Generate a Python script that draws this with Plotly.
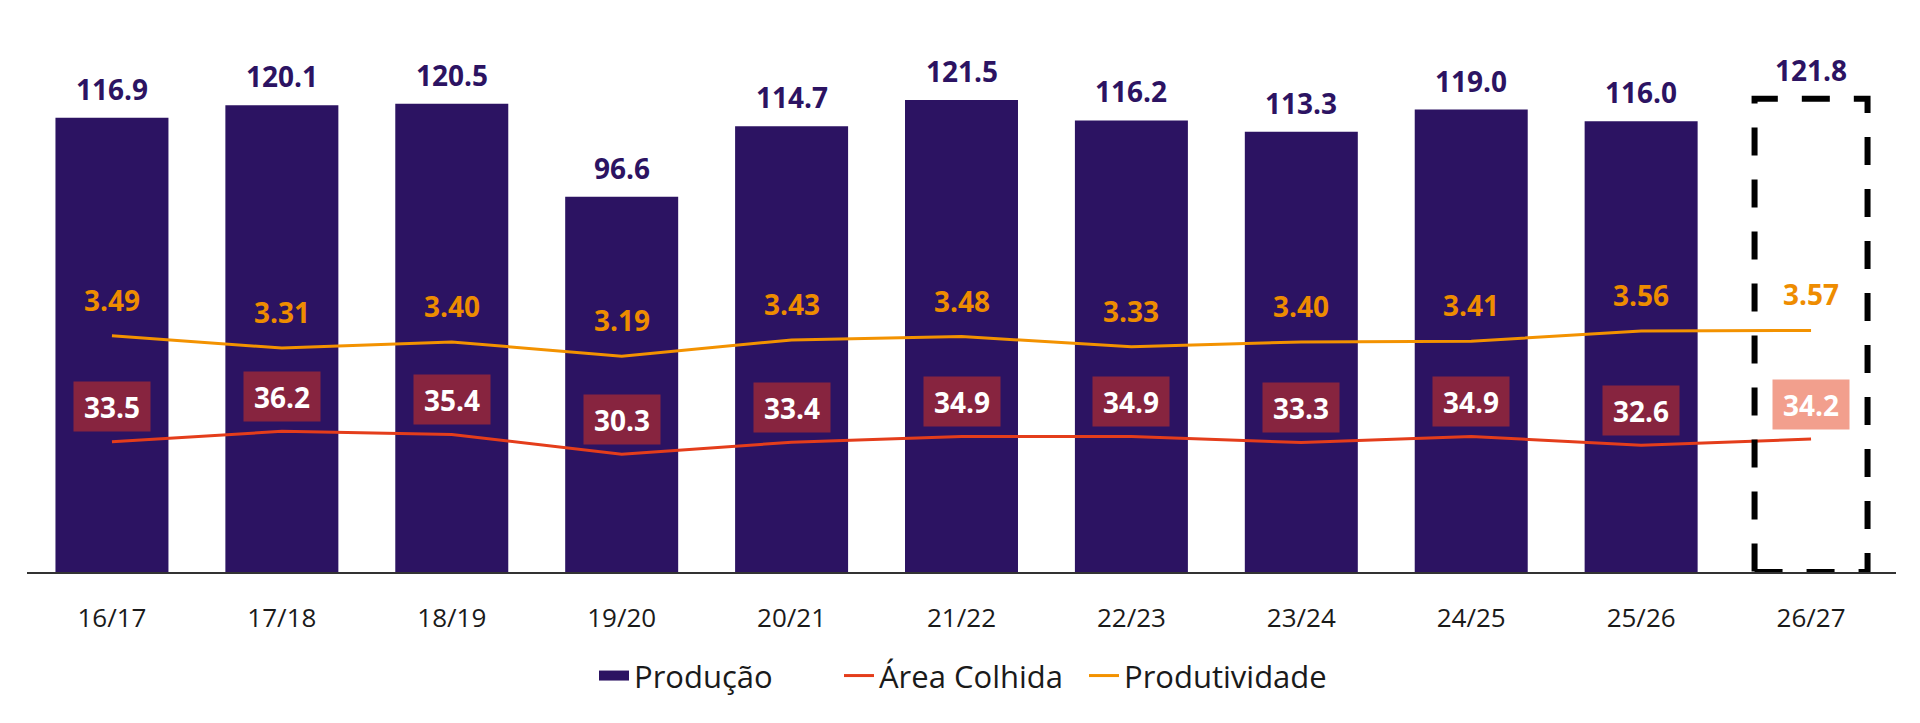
import plotly.graph_objects as go

# ---- data ----
safras = ['16/17', '17/18', '18/19', '19/20', '20/21', '21/22', '22/23', '23/24', '24/25', '25/26', '26/27']
producao = [116.9, 120.1, 120.5, 96.6, 114.7, 121.5, 116.2, 113.3, 119.0, 116.0, 121.8]
area_colhida = [33.5, 36.2, 35.4, 30.3, 33.4, 34.9, 34.9, 33.3, 34.9, 32.6, 34.2]
produtividade = [3.49, 3.31, 3.40, 3.19, 3.43, 3.48, 3.33, 3.40, 3.41, 3.56, 3.57]

PURPLE = '#2C1362'
RED = '#E43D1B'
ORANGE = '#F39200'
ORANGE_TXT = '#EE8C00'
MAROON = '#87243F'
SALMON = '#F29F8D'
FONT = 'Open Sans'
BAR_W = 0.665

n = len(safras)
bar_colors = [PURPLE] * (n - 1) + ['rgba(0,0,0,0)']

fig = go.Figure()
# legend swatch for the bars (wide rectangle like the reference)
fig.add_trace(go.Scatter(
    x=[None], y=[None], name='Produção', mode='lines',
    line=dict(color=PURPLE, width=15), legendgroup='prod',
))
fig.add_trace(go.Bar(
    x=safras, y=producao, name='Produção', width=BAR_W,
    marker=dict(color=bar_colors, line=dict(width=0)),
    yaxis='y', showlegend=False, legendgroup='prod',
))
fig.add_trace(go.Scatter(
    x=safras, y=area_colhida, name='Área Colhida', mode='lines',
    line=dict(color=RED, width=3), yaxis='y',
))
fig.add_trace(go.Scatter(
    x=safras, y=produtividade, name='Produtividade', mode='lines',
    line=dict(color=ORANGE, width=3), yaxis='y2',
))

annotations = []
for i, (c, v) in enumerate(zip(safras, producao)):
    annotations.append(dict(
        x=c, y=v, xref='x', yref='y', text=f'{v:.1f}', showarrow=False,
        yanchor='middle', yshift=29,
        font=dict(family=FONT, size=28, color=PURPLE, weight='bold'),
    ))
for i, (c, v) in enumerate(zip(safras, produtividade)):
    annotations.append(dict(
        x=c, y=v, xref='x', yref='y2', text=f'{v:.2f}', showarrow=False,
        yanchor='middle', yshift=36,
        font=dict(family=FONT, size=28, color=ORANGE_TXT, weight='bold'),
    ))
for i, (c, v) in enumerate(zip(safras, area_colhida)):
    annotations.append(dict(
        x=c, y=v, xref='x', yref='y', text=f'{v:.1f}', showarrow=False,
        yanchor='middle', yshift=35, width=74, height=47,
        bgcolor=SALMON if i == n - 1 else MAROON,
        font=dict(family=FONT, size=28, color='white', weight='bold'),
    ))

# dashed outline for the projected season
fig.add_shape(
    type='rect', xref='x', yref='y',
    x0=safras[-1], x0shift=-BAR_W / 2, x1=safras[-1], x1shift=BAR_W / 2,
    y0=0, y1=producao[-1],
    line=dict(color='black', width=6, dash='28px,24px'),
    fillcolor='rgba(0,0,0,0)',
)

fig.update_layout(
    width=1904, height=707,
    margin=dict(l=19, r=16, t=20, b=137),
    plot_bgcolor='white', paper_bgcolor='white',
    annotations=annotations,
    xaxis=dict(
        type='category', showgrid=False, zeroline=False,
        showline=True, linecolor='#333333', linewidth=1.5,
        ticks='', ticklabelstandoff=22,
        tickfont=dict(family=FONT, size=26, color='#1a1a1a'),
    ),
    yaxis=dict(range=[0, 140], visible=False, showgrid=False, zeroline=False),
    yaxis2=dict(range=[0, 8.04], overlaying='y', visible=False, showgrid=False, zeroline=False),
    legend=dict(
        orientation='h', x=0.5, xanchor='center', y=-0.191, yanchor='middle',
        font=dict(family=FONT, size=31, color='#1a1a1a'),
        traceorder='normal', entrywidth=200, entrywidthmode='pixels',
    ),
    showlegend=True,
)

fig.write_html('out.html')
